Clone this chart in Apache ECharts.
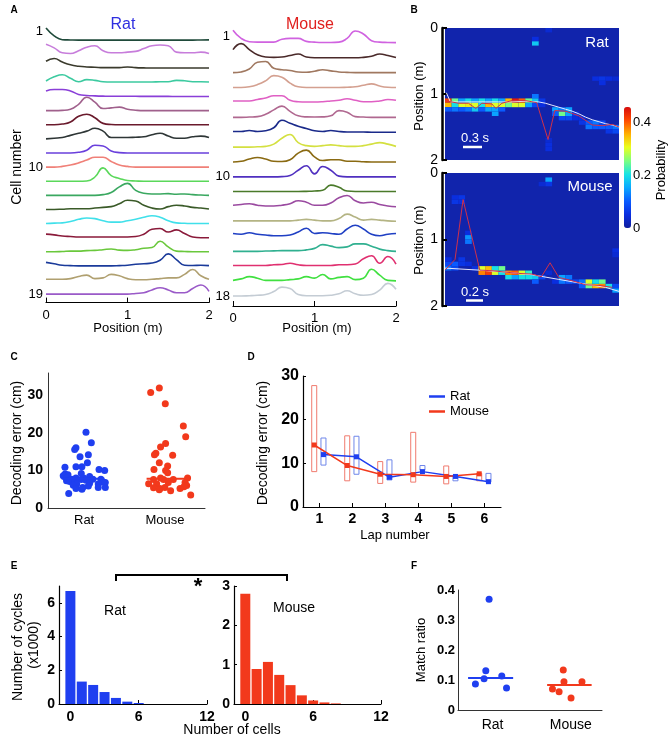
<!DOCTYPE html>
<html>
<head>
<meta charset="utf-8">
<script src="https://cdn.jsdelivr.net/npm/echarts@6/dist/echarts.min.js"></script>
<style>
  html, body { margin: 0; padding: 0; background: #fff; }
  #main { width: 669px; height: 738px; }
</style>
</head>
<body>
<div id="main"></div>
<script>
// ---- A: tuning curves (height above baseline, in row units), sampled every 0.1 m
var posA = [0, 0.1, 0.2, 0.3, 0.4, 0.5, 0.6, 0.7, 0.8, 0.9, 1.0, 1.1, 1.2, 1.3, 1.4, 1.5, 1.6, 1.7, 1.8, 1.9, 2.0];
var ratTuning = [
  [0.85,0.3,0.03,0.01,0,0,0,0,0,0,0,0,0,0,0,0,0,0,0,0.01,0.02],
  [0.7,0.45,0.1,0.05,0.25,0.5,0.6,0.25,0.1,0.1,0.15,0.2,0.4,0.6,0.65,0.6,0.15,0.1,0.1,0.15,0.05],
  [0.5,0.7,0.45,0.25,0.15,0.1,0.08,0.05,0.05,0.05,0.1,0.05,0.03,0.02,0.02,0.02,0.02,0.02,0.02,0.02,0.02],
  [0.1,0.4,0.55,0.3,0.05,0.2,0.15,0.05,0.03,0.03,0.03,0.03,0.03,0.03,0.05,0.05,0.15,0.12,0.05,0.05,0.03],
  [0.4,0.5,0.5,0.4,0.15,0.08,0.05,0.03,0.02,0.02,0.02,0.02,0.01,0.01,0.01,0.01,0,0,0,0,0],
  [0,0,0.02,0.1,0.45,0.95,0.6,0.15,0.2,0.25,0.1,0.03,0,0,0,0,0,0,0,0,0],
  [0,0,0.05,0.2,0.6,0.75,0.5,0.1,0.02,0,0,0,0,0,0,0,0,0,0,0,0],
  [0,0.05,0.1,0.25,0.4,0.55,0.75,0.55,0.1,0.1,0.1,0.12,0.15,0.3,0.4,0.2,0.05,0.05,0.15,0.2,0.1],
  [0,0,0,0,0.05,0.2,0.55,0.5,0.15,0.03,0,0,0,0,0,0,0,0,0,0,0],
  [0,0,0.05,0.15,0.3,0.5,0.7,0.7,0.4,0.15,0.05,0,0,0,0,0,0,0,0,0,0],
  [0,0,0,0,0,0.02,0.3,0.95,0.4,0.2,0.05,0.02,0,0,0,0,0,0,0,0,0],
  [0,0,0,0,0,0,0,0.05,0.2,0.6,0.85,0.35,0.15,0.1,0.1,0.12,0.08,0.1,0.05,0.02,0],
  [0,0,0.02,0.05,0.05,0.05,0.1,0.15,0.2,0.4,0.65,0.6,0.3,0.1,0.03,0.2,0.3,0.25,0.15,0.1,0.03],
  [0,0.03,0.05,0.15,0.3,0.4,0.35,0.2,0.1,0.1,0.2,0.3,0.45,0.55,0.45,0.2,0.05,0.02,0,0,0],
  [0.25,0.2,0.12,0.08,0.05,0.05,0.05,0.05,0.05,0.05,0.05,0.08,0.25,0.6,0.65,0.4,0.55,0.3,0.05,0,0],
  [0,0,0.02,0.05,0.05,0.08,0.1,0.15,0.2,0.12,0.1,0.15,0.25,0.3,0.75,0.35,0.05,0.02,0,0,0],
  [0.25,0.15,0.05,0.02,0,0,0,0,0,0.02,0.05,0.12,0.15,0.2,0.4,0.85,0.45,0.05,0.03,0.05,0.02],
  [0.05,0.05,0.05,0.1,0.25,0.35,0.1,0.15,0.4,0.3,0.1,0.02,0.02,0.05,0.1,0.15,0.15,0.4,0.75,0.3,0.05],
  [0,0,0,0,0,0,0,0,0,0,0,0.05,0.1,0.3,0.45,0.3,0.1,0.1,0.4,0.65,0.2]
];
var ratColors = ['#1f4a3a','#c77ddb','#3a3a2c','#3ccaa0','#8a3fd8','#a0608c','#6a1a2c','#2e3636','#6a40dc',
  '#f08078','#5ad85a','#3aa860','#3a5a28','#40e0ea','#8a1a3a','#6ac83c','#1a3a9a','#b0a070','#9a5ac8'];
var mouseTuning = [
  [0.85,0.3,0.08,0.05,0.05,0.05,0.25,0.3,0.3,0.1,0.05,0.03,0.03,0.05,0.3,0.8,0.6,0.15,0.05,0.03,0.02],
  [0.55,0.95,0.55,0.2,0.05,0.03,0.05,0.15,0.25,0.05,0,0,0,0,0,0,0.03,0.1,0.25,0.15,0.02],
  [0,0.05,0.25,0.7,0.75,0.3,0.2,0.15,0.05,0.03,0.1,0.2,0.12,0.05,0.02,0,0,0,0,0,0],
  [0,0,0.05,0.2,0.45,0.8,0.7,0.3,0.05,0,0,0,0,0,0.02,0.05,0.15,0.25,0.1,0.02,0],
  [0.1,0.1,0.1,0.2,0.3,0.45,0.45,0.15,0.05,0.03,0.03,0.05,0.1,0.15,0.25,0.15,0.05,0.05,0.1,0.2,0.15],
  [0,0,0.02,0.05,0.2,0.5,0.75,0.4,0.1,0.03,0.02,0.03,0.1,0.45,0.35,0.05,0.02,0,0,0,0],
  [0.05,0.05,0.12,0.05,0.1,0.3,0.8,0.6,0.4,0.25,0.1,0.05,0.12,0.05,0.02,0.02,0.02,0,0,0,0],
  [0,0,0,0.02,0.05,0.2,0.6,0.85,0.3,0.1,0.05,0.1,0.15,0.1,0.05,0.05,0.1,0.2,0.3,0.2,0.05],
  [0,0.05,0.2,0.3,0.2,0.05,0.03,0.15,0.6,0.8,0.35,0.1,0.15,0.15,0.05,0.05,0.02,0,0,0,0],
  [0,0,0,0,0,0,0.02,0.1,0.45,0.75,0.2,0.7,0.45,0.05,0,0,0,0,0,0,0],
  [0.02,0.02,0.02,0.02,0.02,0.02,0.02,0.02,0.02,0.03,0.05,0.1,0.45,0.3,0.05,0.02,0.02,0.02,0.02,0.02,0.02],
  [0.1,0.15,0.2,0.1,0.05,0.05,0.1,0.2,0.4,0.3,0.1,0.1,0.25,0.6,0.75,0.4,0.25,0.3,0.15,0.05,0],
  [0.05,0.05,0.05,0.05,0.05,0.05,0.05,0.05,0.1,0.15,0.1,0.05,0.05,0.2,0.5,0.3,0.1,0.15,0.1,0.05,0.02],
  [0.2,0.15,0.25,0.15,0.1,0.05,0.05,0.1,0.3,0.55,0.2,0.25,0.2,0.15,0.5,0.75,0.5,0.15,0.05,0.15,0.2],
  [0,0,0,0,0.02,0.03,0.05,0.05,0.05,0.1,0.2,0.45,0.35,0.25,0.3,0.5,0.5,0.35,0.15,0.05,0],
  [0.05,0.05,0.05,0.05,0.05,0.1,0.12,0.2,0.1,0.05,0.05,0.05,0.05,0.1,0.1,0.15,0.5,0.7,0.2,0.65,0.15],
  [0.05,0.15,0.3,0.2,0.05,0.05,0.05,0.1,0.15,0.3,0.2,0.45,0.15,0.25,0.3,0.1,0.2,0.8,0.4,0.05,0.02],
  [0,0,0.02,0.05,0.1,0.3,0.6,0.5,0.1,0.02,0.02,0.02,0.05,0.15,0.35,0.15,0.05,0.1,0.4,0.85,0.45]
];
var mouseColors = ['#d062e0','#4a2a2a','#a07860','#d4a090','#e060c4','#b06890','#1a2a8a','#d4e040','#8a6a12',
  '#5030c0','#4a7a2a','#9a4aa0','#b4b484','#2040c4','#30b090','#e03070','#40e040','#c4ccd4'];

// ---- B: posterior cells [timeBin, posBin, probability], position bins of 2/30 m
var POS_BIN = 2 / 30;
var ratHeat = [
  [0,16,0.42],[0,17,0.35],[0,18,0.1],[1,16,0.25],[1,17,0.2],[1,18,0.12],[2,16,0.15],[2,17,0.3],[2,18,0.1],
  [3,16,0.2],[3,17,0.32],[3,18,0.12],[4,16,0.15],[4,17,0.3],[4,18,0.18],[5,16,0.2],[5,17,0.2],[5,18,0.1],
  [6,16,0.15],[6,17,0.35],[6,18,0.15],[7,16,0.2],[7,17,0.3],[7,18,0.15],[7,19,0.15],[8,16,0.15],[8,17,0.3],[8,18,0.1],
  [9,16,0.35],[9,17,0.25],[10,16,0.45],[10,17,0.3],[11,16,0.4],[11,17,0.3],[12,16,0.25],[12,17,0.15],
  [13,15,0.12],[13,16,0.18],[13,17,0.08],[13,3,0.18],[13,2,0.05],[14,16,0.06],[14,17,0.05],
  [15,26,0.05],[15,27,0.05],[15,0,0.04],[15,25,0.04],[16,18,0.15],[16,19,0.1],[17,18,0.12],[17,19,0.25],[17,20,0.08],
  [18,18,0.15],[18,19,0.15],[18,20,0.08],[19,19,0.06],[19,20,0.05],[20,20,0.05],[20,21,0.06],
  [21,21,0.1],[21,22,0.12],[22,21,0.12],[22,22,0.1],[22,11,0.05],[23,22,0.1],[23,21,0.08],[23,11,0.06],[23,12,0.05],
  [24,22,0.1],[24,23,0.06],[24,11,0.05],[25,22,0.12],[25,23,0.08],[25,11,0.04]
];
var mouseHeat = [
  [0,20,0.08],[0,21,0.12],[0,19,0.05],[1,20,0.1],[1,21,0.08],[1,5,0.05],[1,6,0.06],[2,5,0.06],[2,6,0.05],[2,19,0.06],[2,20,0.06],
  [3,14,0.14],[3,15,0.12],[3,13,0.05],[3,20,0.05],[4,21,0.05],[5,21,0.3],[5,22,0.38],[6,21,0.35],[6,22,0.42],
  [7,21,0.2],[7,22,0.3],[8,21,0.25],[8,22,0.2],[9,22,0.38],[9,23,0.2],[10,22,0.4],[10,23,0.15],[11,22,0.3],[11,23,0.2],
  [12,22,0.22],[12,23,0.2],[13,23,0.18],[13,24,0.1],[14,23,0.08],[14,2,0.04],[15,1,0.15],[15,2,0.06],[15,22,0.04],
  [16,24,0.05],[17,23,0.15],[17,24,0.12],[18,23,0.12],[18,24,0.1],[19,24,0.08],[20,24,0.12],[20,25,0.1],
  [21,24,0.3],[21,25,0.25],[22,25,0.35],[22,24,0.2],[23,25,0.38],[23,24,0.25],[24,25,0.2],
  [25,26,0.15],[25,25,0.08],[25,17,0.05],[25,18,0.04]
];
var ratTrueT = [0.2, 0.8, 2, 4, 6, 8, 10, 12, 14, 15, 16, 17, 18, 19, 20, 21, 22, 23, 24, 25, 26];
var ratTrueP = [0.98, 1.12, 1.12, 1.12, 1.12, 1.12, 1.12, 1.11, 1.12, 1.14, 1.17, 1.2, 1.23, 1.26, 1.3, 1.35, 1.39, 1.42, 1.45, 1.47, 1.5];
var ratDecT = [0, 2, 3.5, 4.6, 5.5, 7, 7.6, 8.5, 10, 12, 13.7, 15.4, 16.4, 18, 20, 22, 23.5, 25, 26];
var ratDecP = [1.1, 1.14, 1.14, 1.22, 1.14, 1.15, 1.22, 1.14, 1.1, 1.1, 1.13, 1.69, 1.25, 1.26, 1.33, 1.47, 1.48, 1.46, 1.5];
var mouseTrueT = [0, 5, 9, 13, 17, 21, 24, 26];
var mouseTrueP = [1.43, 1.46, 1.49, 1.53, 1.6, 1.67, 1.72, 1.78];
var mouseDecT = [0, 1.5, 2.7, 5.2, 7, 9, 11, 13, 14.4, 15.7, 17, 19, 21, 23, 25];
var mouseDecP = [1.46, 1.3, 0.4, 1.46, 1.47, 1.49, 1.51, 1.52, 1.56, 1.35, 1.57, 1.62, 1.68, 1.69, 1.72];

// ---- C: decoding error per session (jitter x, error cm)
var cRatX = [2.42,2.76,1.78,1.7,2.04,2.57,2.51,1.08,1.78,2.16,3.25,3.61,1.09,1.27,2.12,0.97,1.18,1.5,1.78,2.27,2.65,2.86,3.37,1.18,1.38,1.72,2.12,2.42,3.52,1.83,1.61,2.65,3.2,3.65,2.21,2.57,3.2,3.65,1.78,1.32,2.16];
var cRatY = [20.2,17.4,16.1,15.6,13.7,14.2,12.1,10.9,11.0,11.0,10.3,10.0,9.1,8.9,9.2,8.6,8.0,7.7,8.0,8.0,8.4,7.7,7.7,7.3,7.1,7.0,7.6,7.4,6.9,6.4,6.1,6.6,6.4,6.8,5.5,5.9,5.5,5.5,5.2,3.9,5.0];
var cMouseX = [6.54,7.09,7.47,8.62,8.77,7.49,7.17,6.87,6.78,7.94,7.09,7.62,6.75,7.49,7.62,7.17,6.72,7.36,7.98,8.89,6.41,6.92,7.66,8.73,6.72,7.13,7.45,7.81,8.41,8.66,8.83,9.09,7.09];
var cMouseY = [30.8,32.0,27.8,21.9,19.0,17.2,16.3,14.6,14.2,14.1,12.1,11.2,10.3,10.0,9.4,8.0,7.6,7.6,7.6,8.0,6.5,6.5,6.8,6.8,5.4,5.2,5.5,4.6,5.2,5.7,6.0,3.5,4.9];
var cMedian = [7.8, 7.8];

// ---- D: decoding error by lap
var laps = [1, 2, 3, 4, 5, 6];
var dRatMed = [12.0, 11.5, 6.8, 8.1, 7.0, 5.8];
var dRatLo = [9.6, 7.5, 6.2, 8.4, 6.0, 5.7];
var dRatHi = [15.8, 16.2, 10.8, 9.5, 7.3, 7.7];
var dMouseMed = [14.2, 9.5, 7.5, 7.4, 7.0, 7.6];
var dMouseLo = [8.1, 6.0, 5.4, 5.7, 5.3, 6.0];
var dMouseHi = [27.8, 16.3, 10.4, 17.1, 9.4, 7.7];

// ---- E: cells per theta cycle histogram (x1000 cycles)
var eCells = [0, 1, 2, 3, 4, 5, 6, 7, 8];
var eRat = [6.7, 1.33, 1.13, 0.71, 0.36, 0.14, 0.06];
var eMouse = [2.8, 0.89, 1.07, 0.74, 0.48, 0.22, 0.09, 0.04, 0.015];

// ---- F: match ratio
var fRatX = [2.16, 1.93, 1.21, 1.81, 3.04, 3.37];
var fRatY = [0.369, 0.131, 0.087, 0.104, 0.113, 0.073];
var fMouseX = [7.31, 7.36, 8.61, 6.56, 7.02, 7.85];
var fMouseY = [0.133, 0.094, 0.094, 0.07, 0.061, 0.04];
var fMedian = [0.107, 0.083];

var BLUE = '#1f3ff0', RED = '#f2391c';
var FONT = 'Liberation Sans';

var myChart = echarts.init(document.getElementById('main'));

function zip(a, b) { return a.map(function (v, i) { return [v, b[i]]; }); }

function renderCell(params, api) {
  var p0 = api.coord([api.value(0), api.value(1) * POS_BIN]);
  var p1 = api.coord([api.value(0) + 1, (api.value(1) + 1) * POS_BIN]);
  return {
    type: 'rect',
    shape: { x: p0[0], y: p0[1], width: p1[0] - p0[0], height: p1[1] - p0[1] },
    style: { fill: api.visual('color') }
  };
}

function renderBox(params, api) {
  var top = api.coord([api.value(0), api.value(2)]);
  var bot = api.coord([api.value(0), api.value(1)]);
  return {
    type: 'rect',
    shape: { x: top[0] - 2.5, y: top[1], width: 5, height: bot[1] - top[1] },
    style: { fill: 'none', stroke: api.visual('color'), lineWidth: 1 }
  };
}

var noSplit = { show: false };
var blackLine = { onZero: false, lineStyle: { color: '#000', width: 1.2 } };
var boldLab = function (size) { return { color: '#000', fontSize: size, fontWeight: 'bold', fontFamily: FONT }; };

var grids = [
  { left: 46, top: 26, width: 163, height: 276.6 },
  { left: 233, top: 28, width: 163, height: 278 },
  { left: 445, top: 28, width: 174, height: 132, show: true, backgroundColor: '#1124ac', borderWidth: 0 },
  { left: 445, top: 173, width: 174, height: 133, show: true, backgroundColor: '#1124ac', borderWidth: 0 },
  { left: 624, top: 107, width: 7, height: 121 },
  { left: 48, top: 373, width: 157, height: 135 },
  { left: 303, top: 376, width: 198, height: 131 },
  { left: 59, top: 586, width: 148, height: 118 },
  { left: 234, top: 586, width: 147, height: 118 },
  { left: 458, top: 590, width: 144, height: 120 }
];
grids.forEach(function (g) { g.outerBoundsMode = 'none'; g.containLabel = false; });

var xAxes = [
  { gridIndex: 0, type: 'value', position: 'bottom', min: 0, max: 2, interval: 1, axisLine: blackLine,
    axisTick: { inside: true, length: 5, lineStyle: { color: '#000' } },
    axisLabel: { color: '#000', fontSize: 13, margin: 6 }, splitLine: noSplit },
  { gridIndex: 1, type: 'value', position: 'bottom', min: 0, max: 2, interval: 1, axisLine: blackLine,
    axisTick: { inside: true, length: 5, lineStyle: { color: '#000' } },
    axisLabel: { color: '#000', fontSize: 13, margin: 6 }, splitLine: noSplit },
  { gridIndex: 2, type: 'value', min: 0, max: 26, show: false },
  { gridIndex: 3, type: 'value', min: 0, max: 26, show: false },
  { gridIndex: 4, type: 'value', min: 0, max: 1, show: false },
  { gridIndex: 5, type: 'value', min: 0, max: 10, axisLine: { onZero: false, lineStyle: { color: '#333' } }, axisTick: { show: false },
    axisLabel: { customValues: [2.3, 7.45], formatter: function (v) { return v < 5 ? 'Rat' : 'Mouse'; }, color: '#000', fontSize: 13, margin: 6 },
    splitLine: noSplit },
  { gridIndex: 6, type: 'value', min: 0.5, max: 6.5, axisLine: blackLine,
    axisTick: { customValues: laps, inside: true, length: 4, lineStyle: { color: '#000' } },
    axisLabel: Object.assign({ customValues: laps, margin: 5 }, boldLab(14)), splitLine: noSplit },
  { gridIndex: 7, type: 'value', min: -1, max: 12, axisLine: blackLine,
    axisTick: { customValues: [0, 6, 12], inside: true, length: 4, lineStyle: { color: '#000' } },
    axisLabel: Object.assign({ customValues: [0, 6, 12], margin: 6 }, boldLab(14)), splitLine: noSplit },
  { gridIndex: 8, type: 'value', min: -1, max: 12, axisLine: blackLine,
    axisTick: { customValues: [0, 6, 12], inside: true, length: 4, lineStyle: { color: '#000' } },
    axisLabel: Object.assign({ customValues: [0, 6, 12], margin: 6 }, boldLab(14)), splitLine: noSplit },
  { gridIndex: 9, type: 'value', min: 0, max: 10, axisLine: { onZero: false, lineStyle: { color: '#333' } }, axisTick: { show: false },
    axisLabel: { customValues: [2.4, 7.83], formatter: function (v) { return v < 5 ? 'Rat' : 'Mouse'; }, color: '#000', fontSize: 14, margin: 8 },
    splitLine: noSplit }
];

var decFmt = function (v) { return v === 0 ? '0' : v.toFixed(1); };
var yAxes = [
  { gridIndex: 0, type: 'value', inverse: true, min: 0, max: 19.6, axisLine: { show: false, onZero: false }, axisTick: { show: false }, splitLine: noSplit,
    axisLabel: { customValues: [0.35, 10, 19], formatter: function (v) { return v < 1 ? '1' : String(v); }, color: '#000', fontSize: 13, margin: 3 } },
  { gridIndex: 1, type: 'value', inverse: true, min: 0, max: 18.67, axisLine: { show: false, onZero: false }, axisTick: { show: false }, splitLine: noSplit,
    axisLabel: { customValues: [0.54, 10, 18], formatter: function (v) { return v < 1 ? '1' : String(v); }, color: '#000', fontSize: 13, margin: 3 } },
  { gridIndex: 2, type: 'value', inverse: true, min: 0, max: 2, interval: 1, offset: 3,
    axisLine: { onZero: false, lineStyle: { color: '#000', width: 2.5 } }, axisTick: { inside: true, length: 5, lineStyle: { color: '#000', width: 2 } },
    axisLabel: { color: '#000', fontSize: 14, margin: 4 }, splitLine: noSplit },
  { gridIndex: 3, type: 'value', inverse: true, min: 0, max: 2, interval: 1, offset: 3,
    axisLine: { onZero: false, lineStyle: { color: '#000', width: 2.5 } }, axisTick: { inside: true, length: 5, lineStyle: { color: '#000', width: 2 } },
    axisLabel: { color: '#000', fontSize: 14, margin: 4 }, splitLine: noSplit },
  { gridIndex: 4, type: 'value', position: 'right', min: 0, max: 0.46, axisLine: { show: false, onZero: false }, axisTick: { show: false }, splitLine: noSplit,
    axisLabel: { customValues: [0, 0.2, 0.4], formatter: decFmt, color: '#000', fontSize: 13, margin: 2 } },
  { gridIndex: 5, type: 'value', min: 0, max: 36, axisLine: { show: true, onZero: false, lineStyle: { color: '#333' } }, axisTick: { show: false }, splitLine: noSplit,
    axisLabel: Object.assign({ customValues: [0, 10, 20, 30], margin: 5 }, boldLab(14)) },
  { gridIndex: 6, type: 'value', min: 0, max: 30, interval: 10, axisLine: { show: true, onZero: false, lineStyle: { color: '#000', width: 1.2 } },
    axisTick: { inside: true, length: 3, lineStyle: { color: '#000' } }, splitLine: noSplit,
    axisLabel: Object.assign({ margin: 4 }, boldLab(16)) },
  { gridIndex: 7, type: 'value', min: 0, max: 7, axisLine: { show: true, onZero: false, lineStyle: { color: '#000', width: 1.2 } },
    axisTick: { customValues: [0, 2, 4, 6], inside: true, length: 3, lineStyle: { color: '#000' } }, splitLine: noSplit,
    axisLabel: Object.assign({ customValues: [0, 2, 4, 6], margin: 4 }, boldLab(14)) },
  { gridIndex: 8, type: 'value', min: 0, max: 3, interval: 1, axisLine: { show: true, onZero: false, lineStyle: { color: '#000', width: 1.2 } },
    axisTick: { inside: true, length: 3, lineStyle: { color: '#000' } }, splitLine: noSplit,
    axisLabel: Object.assign({ margin: 4 }, boldLab(14)) },
  { gridIndex: 9, type: 'value', min: 0, max: 0.4, axisLine: { show: true, onZero: false, lineStyle: { color: '#333' } }, axisTick: { show: false }, splitLine: noSplit,
    axisLabel: Object.assign({ customValues: [0, 0.1, 0.2, 0.3, 0.4], formatter: decFmt, margin: 3 }, boldLab(13)) }
];

var series = [];
// A traces
ratTuning.forEach(function (h, i) {
  series.push({ type: 'line', xAxisIndex: 0, yAxisIndex: 0, silent: true, showSymbol: false, smooth: 0.5,
    data: posA.map(function (x, k) { return [x, i + 1 - h[k]]; }),
    lineStyle: { width: 1.6, color: ratColors[i] } });
});
mouseTuning.forEach(function (h, i) {
  series.push({ type: 'line', xAxisIndex: 1, yAxisIndex: 1, silent: true, showSymbol: false, smooth: 0.5,
    data: posA.map(function (x, k) { return [x, i + 1 - h[k]]; }),
    lineStyle: { width: 1.6, color: mouseColors[i] } });
});
// B heatmaps
var heatIdx = [series.length, series.length + 1];
series.push({ type: 'custom', xAxisIndex: 2, yAxisIndex: 2, renderItem: renderCell, data: ratHeat, encode: { x: 0, y: 1 } });
series.push({ type: 'custom', xAxisIndex: 3, yAxisIndex: 3, renderItem: renderCell, data: mouseHeat, encode: { x: 0, y: 1 } });
[[2, ratTrueT, ratTrueP, '#e6e8ff'], [2, ratDecT, ratDecP, '#d0304a'],
 [3, mouseTrueT, mouseTrueP, '#e6e8ff'], [3, mouseDecT, mouseDecP, '#d0304a']].forEach(function (s) {
  series.push({ type: 'line', xAxisIndex: s[0], yAxisIndex: s[0], silent: true, showSymbol: false, z: 5,
    data: zip(s[1], s[2]), lineStyle: { width: 1, color: s[3] } });
});
// C scatter
series.push({ type: 'scatter', xAxisIndex: 5, yAxisIndex: 5, symbolSize: 7, data: zip(cRatX, cRatY), itemStyle: { color: BLUE, opacity: 1 } });
series.push({ type: 'scatter', xAxisIndex: 5, yAxisIndex: 5, symbolSize: 7, data: zip(cMouseX, cMouseY), itemStyle: { color: RED, opacity: 1 } });
series.push({ type: 'line', xAxisIndex: 5, yAxisIndex: 5, showSymbol: false, data: [[0.87, cMedian[0]], [3.6, cMedian[0]]], lineStyle: { color: BLUE, width: 2 } });
series.push({ type: 'line', xAxisIndex: 5, yAxisIndex: 5, showSymbol: false, data: [[6.28, cMedian[1]], [9.04, cMedian[1]]], lineStyle: { color: RED, width: 2 } });
// D boxes and lines
series.push({ type: 'custom', xAxisIndex: 6, yAxisIndex: 6, renderItem: renderBox, itemStyle: { color: '#f07a6e' },
  data: laps.map(function (l, i) { return [l - 0.16, dMouseLo[i], dMouseHi[i]]; }), encode: { x: 0, y: [1, 2] } });
series.push({ type: 'custom', xAxisIndex: 6, yAxisIndex: 6, renderItem: renderBox, itemStyle: { color: '#6f86ea' },
  data: laps.map(function (l, i) { return [l + 0.12, dRatLo[i], dRatHi[i]]; }), encode: { x: 0, y: [1, 2] } });
series.push({ name: 'Rat', type: 'line', xAxisIndex: 6, yAxisIndex: 6, symbol: 'rect', symbolSize: 5, z: 4,
  data: laps.map(function (l, i) { return [l + 0.12, dRatMed[i]]; }), itemStyle: { color: BLUE }, lineStyle: { color: BLUE, width: 1.5 } });
series.push({ name: 'Mouse', type: 'line', xAxisIndex: 6, yAxisIndex: 6, symbol: 'rect', symbolSize: 5, z: 4,
  data: laps.map(function (l, i) { return [l - 0.16, dMouseMed[i]]; }), itemStyle: { color: RED }, lineStyle: { color: RED, width: 1.5 } });
// E histograms
series.push({ type: 'bar', xAxisIndex: 7, yAxisIndex: 7, barWidth: 10, data: zip(eCells, eRat), itemStyle: { color: BLUE } });
series.push({ type: 'bar', xAxisIndex: 8, yAxisIndex: 8, barWidth: 10, data: zip(eCells, eMouse), itemStyle: { color: RED } });
// F scatter and medians
series.push({ type: 'scatter', xAxisIndex: 9, yAxisIndex: 9, symbolSize: 7, data: zip(fRatX, fRatY), itemStyle: { color: BLUE, opacity: 1 } });
series.push({ type: 'scatter', xAxisIndex: 9, yAxisIndex: 9, symbolSize: 7, data: zip(fMouseX, fMouseY), itemStyle: { color: RED, opacity: 1 } });
series.push({ type: 'line', xAxisIndex: 9, yAxisIndex: 9, showSymbol: false, data: [[0.7, fMedian[0]], [3.83, fMedian[0]]], lineStyle: { color: BLUE, width: 2 } });
series.push({ type: 'line', xAxisIndex: 9, yAxisIndex: 9, showSymbol: false, data: [[6.19, fMedian[1]], [9.28, fMedian[1]]], lineStyle: { color: RED, width: 2 } });

function txt(x, y, s, size, opt) {
  opt = opt || {};
  return {
    type: 'text', x: x, y: y, rotation: opt.rot || 0, z: 100,
    style: {
      text: s, fill: opt.color || '#000',
      font: (opt.bold ? 'bold ' : '') + size + 'px "' + FONT + '"',
      align: 'center', verticalAlign: 'middle', textAlign: 'center', textVerticalAlign: 'middle'
    }
  };
}
var R90 = Math.PI / 2;
var graphics = [
  txt(14, 10, 'A', 10, { bold: true }), txt(414, 10, 'B', 10, { bold: true }),
  txt(14, 357, 'C', 10, { bold: true }), txt(251, 357, 'D', 10, { bold: true }),
  txt(14, 566, 'E', 10, { bold: true }), txt(414, 566, 'F', 10, { bold: true }),
  txt(123, 25, 'Rat', 16, { color: '#2e2ee0' }), txt(310, 25, 'Mouse', 16, { color: '#e0201e' }),
  txt(17, 167, 'Cell number', 14, { rot: R90 }),
  txt(128, 328, 'Position (m)', 13), txt(317, 328, 'Position (m)', 13),
  txt(419, 96, 'Position (m)', 13, { rot: R90 }), txt(419, 240, 'Position (m)', 13, { rot: R90 }),
  txt(597, 43, 'Rat', 15, { color: '#fff' }), txt(590, 187, 'Mouse', 15, { color: '#fff' }),
  txt(475, 138, '0.3 s', 13, { color: '#fff' }), txt(475, 292, '0.2 s', 13, { color: '#fff' }),
  { type: 'line', z: 100, shape: { x1: 463, y1: 147, x2: 482, y2: 147 }, style: { stroke: '#fff', lineWidth: 2.5 } },
  { type: 'line', z: 100, shape: { x1: 466, y1: 300.5, x2: 483, y2: 300.5 }, style: { stroke: '#fff', lineWidth: 2.5 } },
  txt(661, 170, 'Probability', 13, { rot: R90 }),
  txt(17, 443, 'Decoding error (cm)', 14, { rot: R90 }),
  txt(263, 443, 'Decoding error (cm)', 14, { rot: R90 }),
  txt(395, 535, 'Lap number', 13),
  txt(115, 611, 'Rat', 14), txt(294, 608, 'Mouse', 14),
  txt(18, 647, 'Number of cycles', 14, { rot: R90 }), txt(34, 645, '(x1000)', 14, { rot: R90 }),
  txt(232, 730, 'Number of cells', 14),
  { type: 'polyline', z: 100, shape: { points: [[116, 581], [116, 575], [287, 575], [287, 581]] }, style: { stroke: '#000', lineWidth: 2, fill: 'none' } },
  txt(198, 587, '*', 22, { bold: true }),
  txt(421, 650, 'Match ratio', 13, { rot: R90 })
];

var option = {
  animation: false,
  textStyle: { fontFamily: FONT },
  grid: grids,
  xAxis: xAxes,
  yAxis: yAxes,
  visualMap: {
    type: 'continuous', min: 0, max: 0.46, seriesIndex: heatIdx, dimension: 2,
    left: 624, top: 107, itemWidth: 7, itemHeight: 121, padding: 0, calculable: false,
    text: null, showLabel: false,
    inRange: { color: ['#0f1e9e', '#0a2ee0', '#0a5cff', '#0aa8ff', '#18e4e4', '#7cff80', '#eaff1e', '#ffb000', '#ff4a00', '#d80c0c'] }
  },
  legend: {
    data: ['Rat', 'Mouse'], orient: 'vertical', left: 424, top: 385, itemGap: 2,
    icon: 'rect', itemWidth: 16, itemHeight: 2.5, selectedMode: false,
    textStyle: { fontSize: 13, color: '#000', fontFamily: FONT }
  },
  graphic: graphics,
  series: series
};

myChart.setOption(option);
window.onresize = function () { myChart.resize(); };
</script>
</body>
</html>
